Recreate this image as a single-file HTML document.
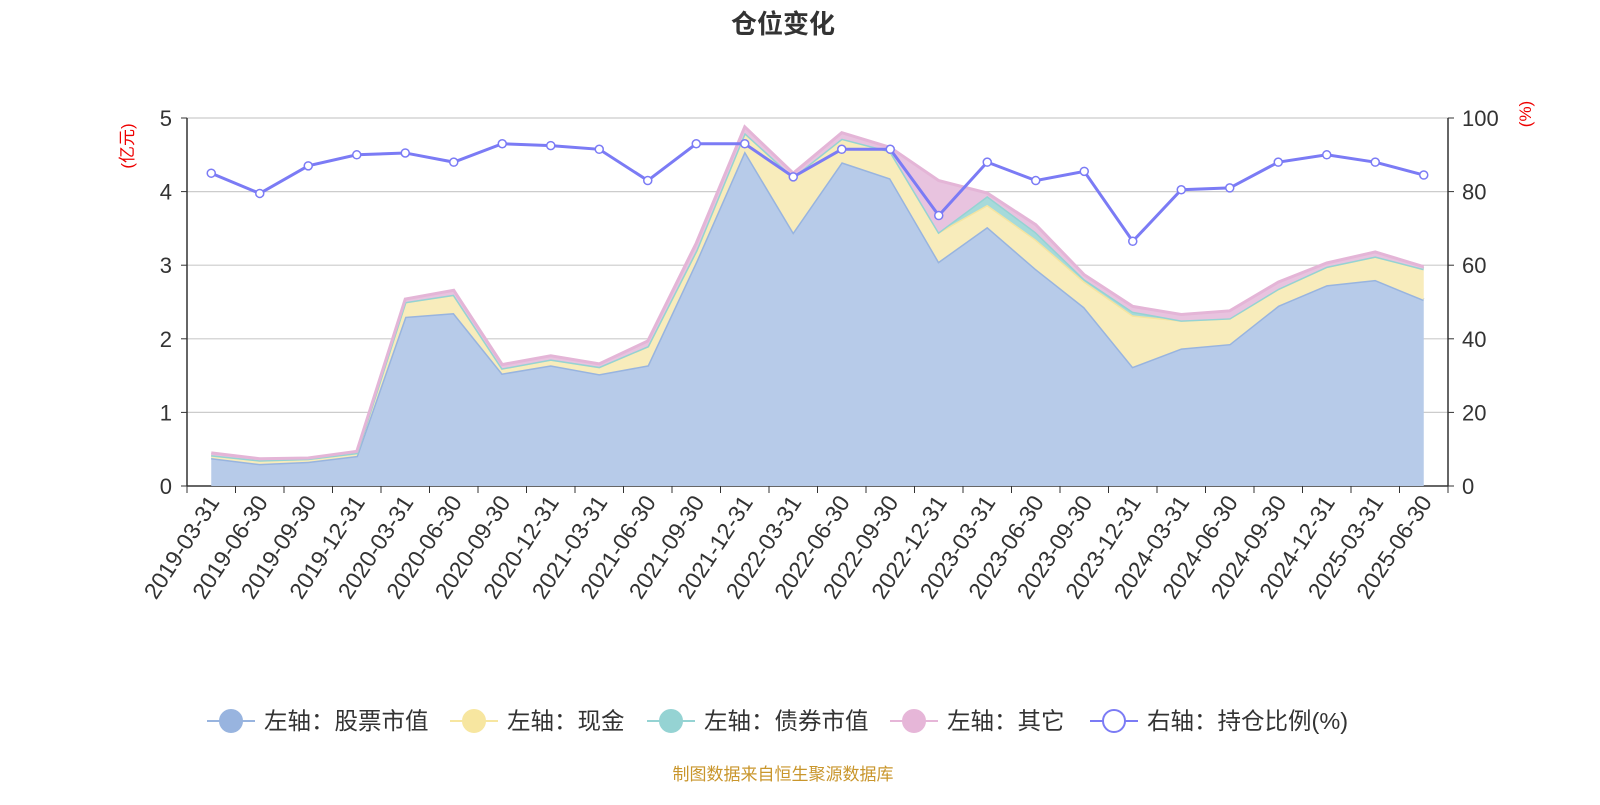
<!DOCTYPE html>
<html><head><meta charset="utf-8">
<style>
body{margin:0;background:#fff;font-family:"Liberation Sans","Noto Sans CJK SC",sans-serif;}
svg text{font-family:"Liberation Sans","Noto Sans CJK SC",sans-serif;}
</style></head>
<body>
<svg id="chart" width="1600" height="800" xmlns="http://www.w3.org/2000/svg">
<text x="783" y="33" text-anchor="middle" font-size="26" font-weight="bold" fill="#333">仓位变化</text>
<text transform="translate(133,146) rotate(-90)" text-anchor="middle" font-size="17" fill="#e00">(亿元)</text>
<text transform="translate(1531,114) rotate(-90)" text-anchor="middle" font-size="17" fill="#e00">(%)</text>
<g id="grid"></g><g id="areas"></g><g id="axes"></g><g id="line"></g>
<g id="legend"></g>
<text x="783" y="780" text-anchor="middle" font-size="17" fill="#c9962c">制图数据来自恒生聚源数据库</text>
</svg>
<script>
const categories=["2019-03-31","2019-06-30","2019-09-30","2019-12-31","2020-03-31","2020-06-30","2020-09-30","2020-12-31","2021-03-31","2021-06-30","2021-09-30","2021-12-31","2022-03-31","2022-06-30","2022-09-30","2022-12-31","2023-03-31","2023-06-30","2023-09-30","2023-12-31","2024-03-31","2024-06-30","2024-09-30","2024-12-31","2025-03-31","2025-06-30"];
const stockValues=[0.38,0.30,0.33,0.41,2.30,2.35,1.53,1.64,1.52,1.64,3.05,4.55,3.45,4.40,4.18,3.05,3.52,2.95,2.43,1.62,1.87,1.93,2.45,2.73,2.80,2.53];
const cashValues=[0.04,0.05,0.04,0.04,0.20,0.25,0.07,0.08,0.10,0.26,0.15,0.25,0.75,0.32,0.37,0.40,0.30,0.40,0.35,0.70,0.38,0.35,0.23,0.25,0.32,0.42];
const bondValues=[0,0,0,0,0,0,0,0,0,0,0,0,0,0,0,0,0.12,0.10,0.03,0.05,0,0,0,0,0,0];
const otherValues=[0.03,0.02,0.01,0.02,0.04,0.06,0.05,0.05,0.04,0.07,0.10,0.08,0.05,0.08,0.05,0.70,0.04,0.10,0.06,0.07,0.08,0.10,0.09,0.05,0.06,0.03];
const ratioValues=[85,79.5,87,90,90.5,88,93,92.5,91.5,83,93,93,84,91.5,91.5,73.5,88,83,85.5,66.5,80.5,81,88,90,88,84.5];
const leftTicks=[0,1,2,3,4,5];
const rightTicks=[0,20,40,60,80,100];
const X0=187,X1=1448,Y0=486,Y1=118;
const band=(X1-X0)/categories.length;
const xs=i=>X0+band*(i+0.5);
const yL=v=>Y0-(v/5)*(Y0-Y1);
const yR=v=>Y0-(v/100)*(Y0-Y1);
const NS="http://www.w3.org/2000/svg";
function mk(p,t,a){const e=document.createElementNS(NS,t);for(const k in a)e.setAttribute(k,a[k]);p.appendChild(e);return e;}
const grid=document.getElementById('grid'),axes=document.getElementById('axes'),areas=document.getElementById('areas'),lineG=document.getElementById('line'),leg=document.getElementById('legend');
leftTicks.forEach((t,i)=>{
 const g=mk(grid,'line',{x1:X0,x2:X1,y1:yL(t),y2:yL(t),stroke:i==0?'#333':'#ccc','stroke-width':i==0?1.5:1.2});
 
 
 const tx=mk(axes,'text',{x:172,y:yL(t)+8,'text-anchor':'end','font-size':22,fill:'#333'});tx.textContent=t;
 
 
 mk(axes,'line',{x1:X0-6,x2:X0,y1:yL(t),y2:yL(t),stroke:'#333'});
});
rightTicks.forEach(t=>{
 const tx=mk(axes,'text',{x:1462,y:yR(t)+8,'font-size':22,fill:'#333'});tx.textContent=t;
 
 
 mk(axes,'line',{x1:X1,x2:X1+6,y1:yR(t),y2:yR(t),stroke:'#333'});
});
mk(axes,'line',{x1:X0,x2:X0,y1:Y1,y2:Y0,stroke:'#333','stroke-width':1.5});
mk(axes,'line',{x1:X1,x2:X1,y1:Y1,y2:Y0,stroke:'#333','stroke-width':1.5});
for(let i=0;i<=categories.length;i++){const x=X0+band*i;mk(axes,'line',{x1:x,x2:x,y1:Y0,y2:Y0+7,stroke:'#333'});}
categories.forEach((c,i)=>{
 const x=xs(i),y=Y0+16;
 const tx=mk(axes,'text',{transform:`translate(${x+9},${y}) rotate(-57)`,'text-anchor':'end','font-size':23,fill:'#333'});tx.textContent=c;
 
 
});
const series=[[stockValues,'#b7cbe9','#98b4df','stock-area'],[cashValues,'#f8ecbb','#f5e4a0','cash-area'],[bondValues,'#a6dada','#95d3d3','bond-area'],[otherValues,'#e8c3df','#e4b5d7','other-area']];
let base=categories.map(()=>0);
series.forEach(([vals,fill,stroke,name])=>{
 const top=base.map((b,i)=>b+vals[i]);
 let pts=top.map((v,i)=>xs(i)+','+yL(v));
 let bpts=base.map((v,i)=>xs(i)+','+yL(v)).reverse();
 const p=mk(areas,'polygon',{points:pts.concat(bpts).join(' '),fill:fill});
 
 
 const l=mk(areas,'polyline',{points:pts.join(' '),fill:'none',stroke:stroke,'stroke-width':3});
 
 
 base=top;
});
const rp=ratioValues.map((v,i)=>xs(i)+','+yR(v)).join(' ');
const rl=mk(lineG,'polyline',{points:rp,fill:'none',stroke:'#7b7bf5','stroke-width':3});


ratioValues.forEach((v,i)=>{
 const c=mk(lineG,'circle',{cx:xs(i),cy:yR(v),r:4,fill:'#fff',stroke:'#7b7bf5','stroke-width':1.5});
 
 
});
const legendItems=[['左轴：股票市值','#98b4df',false,207],['左轴：现金','#f7e6a0',false,450],['左轴：债券市值','#95d3d3',false,647],['左轴：其它','#e6b6d8',false,890],['右轴：持仓比例(%)','#7b7bf5',true,1090]];
legendItems.forEach(([t,c,hollow,x])=>{
 const g=mk(leg,'g',{});
 
 
 mk(g,'line',{x1:x,x2:x+48,y1:721,y2:721,stroke:c,'stroke-width':2});
 mk(g,'circle',{cx:x+24,cy:721,r:11,fill:hollow?'#fff':c,stroke:c,'stroke-width':2});
 const tx=mk(g,'text',{x:x+57,y:729,'font-size':23.5,fill:'#333'});tx.textContent=t;
});
</script>
</body></html>
